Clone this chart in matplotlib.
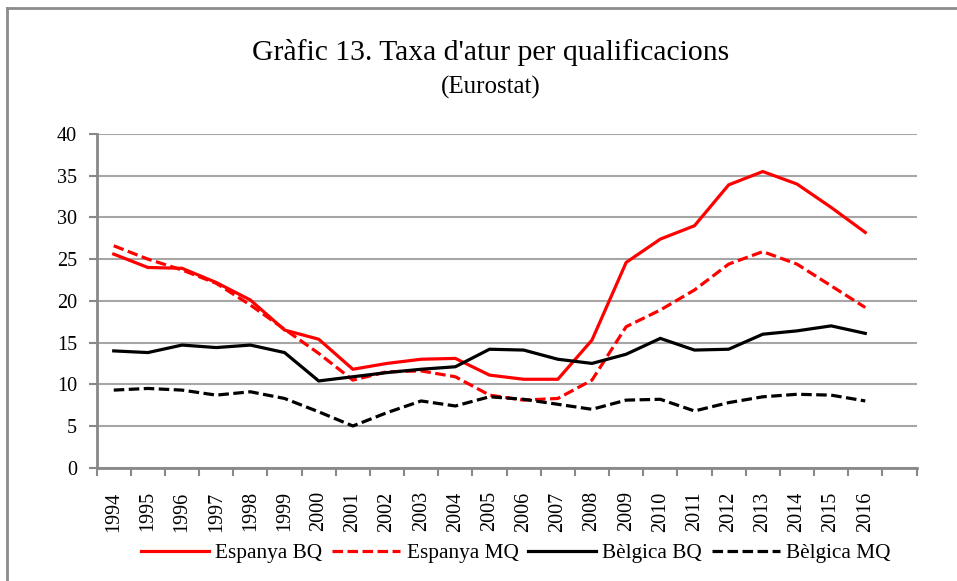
import matplotlib
matplotlib.use("Agg")
import matplotlib.pyplot as plt
from matplotlib.lines import Line2D

years = [str(y) for y in range(1994, 2017)]
categories = years + [""]  # trailing empty category as in the reference

espanya_bq = [25.6, 24.0, 23.9, 22.2, 20.1, 16.5, 15.4, 11.8, 12.5, 13.0, 13.1, 11.1,
              10.6, 10.6, 15.3, 24.6, 27.4, 29.0, 33.9, 35.5, 34.0, 31.2, 28.2]
espanya_mq = [26.6, 25.0, 23.7, 22.1, 19.5, 16.6, 13.7, 10.5, 11.5, 11.6, 10.9, 8.7,
              8.1, 8.3, 10.5, 16.9, 18.9, 21.3, 24.4, 25.9, 24.4, 21.8, 19.2]
belgica_bq = [14.0, 13.8, 14.7, 14.4, 14.7, 13.8, 10.4, 10.9, 11.4, 11.8, 12.1, 14.2,
              14.1, 13.0, 12.5, 13.6, 15.5, 14.1, 14.2, 16.0, 16.4, 17.0, 16.1]
belgica_mq = [9.3, 9.5, 9.3, 8.7, 9.1, 8.3, 6.7, 5.0, 6.6, 8.0, 7.4, 8.5,
              8.2, 7.6, 7.0, 8.1, 8.2, 6.8, 7.8, 8.5, 8.8, 8.7, 8.0]

series_names = ["Espanya BQ", "Espanya MQ", "Bèlgica BQ", "Bèlgica MQ"]
yticks = [0, 5, 10, 15, 20, 25, 30, 35, 40]

plt.rcParams['font.family'] = ['Liberation Serif', 'DejaVu Serif']

fig = plt.figure(figsize=(9.57, 5.81), dpi=100)
ax = fig.add_axes([0.101, 0.195, 0.8567, 0.5744])

x = list(range(len(years)))
lw = 2.3
dash = (3.3, 1.4)
ax.plot(x, espanya_bq, color='#FF0000', lw=lw, label=series_names[0], solid_joinstyle='miter')
ax.plot(x, espanya_mq, color='#FF0000', lw=lw, dashes=dash, label=series_names[1])
ax.plot(x, belgica_bq, color='#000000', lw=lw, label=series_names[2], solid_joinstyle='miter')
ax.plot(x, belgica_mq, color='#000000', lw=lw, dashes=dash, label=series_names[3])

ax.set_xlim(-0.5, len(categories) - 0.5)
ax.set_ylim(0, 40)
ax.set_yticks(yticks)
ax.set_yticklabels([str(v) for v in yticks], fontsize=14.5)

ax.set_xticks([i for i in range(len(categories))])
ax.set_xticklabels(categories, rotation=90, fontsize=14.5)
ax.set_xticks([i - 0.5 for i in range(len(categories) + 1)], minor=True)
ax.tick_params(axis='x', which='major', length=0, pad=17)
ax.tick_params(axis='x', which='minor', length=6, width=1.5, color='#888888', direction='out')
ax.tick_params(axis='y', length=6, width=1.5, color='#888888', direction='out', pad=8)

ax.grid(axis='y', color='#a6a6a6', lw=1.5)
ax.set_axisbelow(True)
for s in ['top', 'right']:
    ax.spines[s].set_visible(False)
for s in ['left', 'bottom']:
    ax.spines[s].set_color('#888888')
    ax.spines[s].set_linewidth(2)

fig.text(0.513, 0.91, "Gràfic 13. Taxa d'atur per qualificacions", ha='center', va='center', fontsize=21.3)
fig.text(0.513, 0.85, "(Eurostat)", ha='center', va='center', fontsize=18)

leg = fig.legend(loc='center', bbox_to_anchor=(0.539, 0.048), ncol=4, frameon=False,
                 fontsize=15.3, handlelength=3.2, columnspacing=0.45, handletextpad=0.3)

# chart area border (top and left visible in the crop)
fig.add_artist(Line2D([0.0073, 1.0], [1 - 8 / 581, 1 - 8 / 581], color='#8c8c8c', lw=2, transform=fig.transFigure))
fig.add_artist(Line2D([0.0073, 0.0073], [0.0, 1 - 8 / 581], color='#8c8c8c', lw=2, transform=fig.transFigure))

fig.savefig("out.png", dpi=100)
